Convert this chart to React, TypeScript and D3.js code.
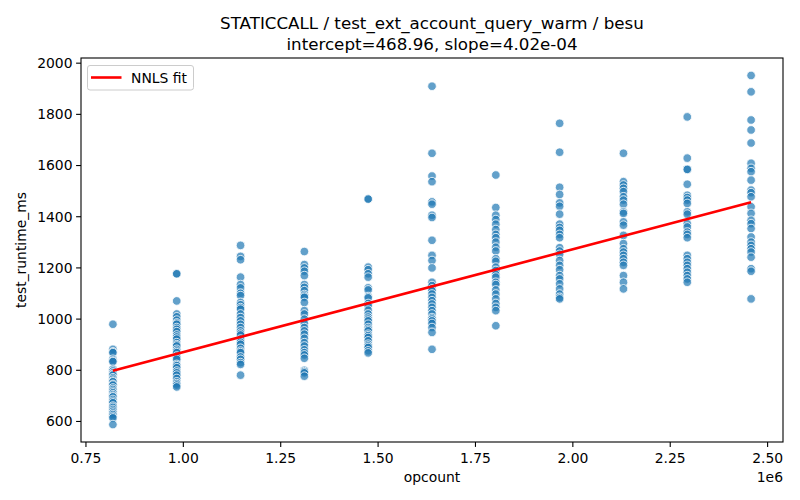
import React from 'react';
import * as d3 from 'd3';

const opcounts = [819200, 983040, 1146880, 1310720, 1474560, 1638400, 1802240, 1966080, 2129920, 2293760, 2457600];

const runtimes0 = [980, 882, 872, 869, 843, 836, 834, 804, 797, 790, 784, 781, 771, 765, 758, 755, 745, 742, 731, 725, 718, 712, 705, 699, 696, 686, 679, 673, 660, 655, 647, 640, 633, 627, 620, 614, 588];
const runtimes1 = [1177, 1177, 1071, 1020, 1009, 996, 985, 980, 967, 960, 951, 938, 930, 922, 908, 900, 895, 882, 875, 869, 856, 850, 843, 823, 818, 810, 797, 790, 781, 768, 755, 748, 742, 735];
const runtimes2 = [1288, 1245, 1232, 1164, 1135, 1122, 1101, 1092, 1065, 1056, 1045, 1039, 1020, 1006, 993, 980, 967, 954, 945, 938, 922, 910, 902, 886, 875, 869, 852, 843, 830, 823, 781];
const runtimes3 = [1264, 1213, 1200, 1187, 1170, 1135, 1124, 1111, 1096, 1090, 1085, 1065, 1033, 1020, 1000, 983, 967, 954, 941, 925, 908, 895, 880, 869, 860, 847, 800, 795, 790, 777];
const runtimes4 = [1469, 1469, 1203, 1193, 1177, 1164, 1122, 1114, 1088, 1083, 1061, 1052, 1035, 1020, 1008, 1000, 993, 980, 967, 960, 954, 941, 935, 928, 915, 902, 895, 889, 876, 868];
const runtimes5 = [1910, 1648, 1559, 1537, 1458, 1449, 1406, 1397, 1308, 1249, 1229, 1200, 1144, 1131, 1118, 1111, 1098, 1085, 1072, 1059, 1046, 1033, 1020, 1006, 1000, 993, 983, 967, 948, 882];
const runtimes6 = [1563, 1436, 1406, 1389, 1371, 1350, 1331, 1318, 1301, 1281, 1266, 1236, 1226, 1203, 1190, 1174, 1164, 1144, 1135, 1114, 1098, 1079, 1061, 1046, 1033, 974];
const runtimes7 = [1765, 1652, 1515, 1487, 1454, 1441, 1410, 1371, 1358, 1347, 1331, 1318, 1279, 1266, 1253, 1229, 1210, 1193, 1170, 1157, 1138, 1118, 1098, 1085, 1079];
const runtimes8 = [1648, 1537, 1524, 1511, 1498, 1478, 1465, 1449, 1419, 1413, 1380, 1367, 1327, 1295, 1275, 1262, 1249, 1236, 1222, 1210, 1170, 1144, 1118];
const runtimes9 = [1790, 1629, 1585, 1585, 1527, 1484, 1475, 1465, 1452, 1419, 1410, 1373, 1360, 1340, 1331, 1318, 1249, 1236, 1222, 1210, 1197, 1183, 1170, 1157, 1144];
const runtimes10 = [1952, 1888, 1778, 1739, 1688, 1609, 1589, 1576, 1543, 1504, 1494, 1478, 1439, 1413, 1386, 1373, 1354, 1321, 1301, 1288, 1275, 1262, 1242, 1197, 1187, 1079];

const runtimeColumns = [runtimes0, runtimes1, runtimes2, runtimes3, runtimes4, runtimes5, runtimes6, runtimes7, runtimes8, runtimes9, runtimes10];

const intercept = 468.96;
const slope = 4.02e-4;

const xTicks = [0.75e6, 1.0e6, 1.25e6, 1.5e6, 1.75e6, 2.0e6, 2.25e6, 2.5e6];
const yTicks = [600, 800, 1000, 1200, 1400, 1600, 1800, 2000];

interface Pt { x: number; y: number; }

const points: Pt[] = opcounts.flatMap((x, i) => runtimeColumns[i].map(y => ({ x, y })));

const W = 800;
const H = 500;
const margin = { top: 58, right: 17, bottom: 58, left: 81 };
const font = '"DejaVu Sans", sans-serif';

function pad(ext: [number, number]): [number, number] {
  const r = ext[1] - ext[0];
  return [ext[0] - r * 0.05, ext[1] + r * 0.05];
}

export default function App() {
  const x = d3.scaleLinear()
    .domain(pad(d3.extent(opcounts) as [number, number]))
    .range([margin.left, W - margin.right]);
  const y = d3.scaleLinear()
    .domain(pad(d3.extent(points, d => d.y) as [number, number]))
    .range([H - margin.bottom, margin.top]);

  const fitX = d3.extent(opcounts) as [number, number];
  const fitLine = d3.line<number>()
    .x(d => x(d))
    .y(d => y(intercept + slope * d))(fitX);

  const x0 = margin.left, x1 = W - margin.right;
  const y0 = margin.top, y1 = H - margin.bottom;

  return (
    <svg width={W} height={H} style={{ display: 'block', margin: -8, fontFamily: font }}>
      <rect width={W} height={H} fill="#fff" />
      <text x={432} y={29} textAnchor="middle" fontSize={16.7}>STATICCALL / test_ext_account_query_warm / besu</text>
      <text x={432} y={49.5} textAnchor="middle" fontSize={16.7}>intercept=468.96, slope=4.02e-04</text>

      {points.map((p, i) => (
        <circle key={i} cx={x(p.x)} cy={y(p.y)} r={4.3} fill="#1f77b4" fillOpacity={0.7}
          stroke="#fff" strokeWidth={0.8} />
      ))}

      <path d={fitLine || ''} fill="none" stroke="red" strokeWidth={2.6} />

      <rect x={x0} y={y0} width={x1 - x0} height={y1 - y0} fill="none" stroke="#000" strokeWidth={1.1} />

      {xTicks.map(t => (
        <g key={t} transform={`translate(${x(t)},${y1})`}>
          <line y2={4.9} stroke="#000" strokeWidth={1.1} />
          <text y={20.5} textAnchor="middle" fontSize={13.9}>{(t / 1e6).toFixed(2)}</text>
        </g>
      ))}
      <text x={x1} y={481.5} textAnchor="end" fontSize={13.9}>1e6</text>
      <text x={(x0 + x1) / 2} y={482} textAnchor="middle" fontSize={13.9}>opcount</text>

      {yTicks.map(t => (
        <g key={t} transform={`translate(${x0},${y(t)})`}>
          <line x2={-4.9} stroke="#000" strokeWidth={1.1} />
          <text x={-8.5} dy="0.35em" textAnchor="end" fontSize={13.9}>{t}</text>
        </g>
      ))}
      <text transform={`translate(26,${(y0 + y1) / 2}) rotate(-90)`} textAnchor="middle" fontSize={13.9}>test_runtime_ms</text>

      <g>
        <rect x={87.5} y={65.5} width={106} height={24.5} rx={2.5} fill="#fff" fillOpacity={0.8} stroke="#ccc" strokeWidth={1} />
        <line x1={91} x2={121.5} y1={77.5} y2={77.5} stroke="red" strokeWidth={2.6} />
        <text x={131} y={82.5} fontSize={13.9}>NNLS fit</text>
      </g>
    </svg>
  );
}
